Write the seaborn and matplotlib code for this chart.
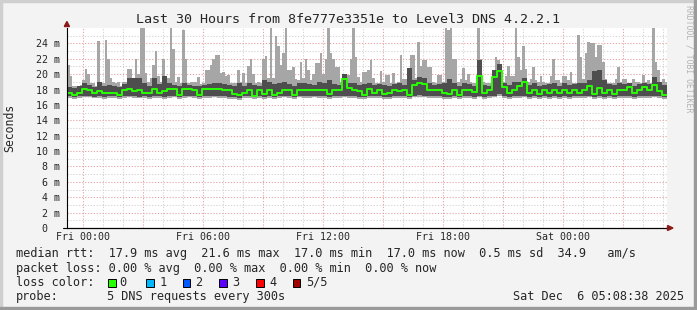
import numpy as np
import pandas as pd
import matplotlib
matplotlib.use("Agg")
import matplotlib.pyplot as plt
import seaborn as sns
from matplotlib.patches import Rectangle, Polygon

# ---------------- data ----------------
title = "Last 30 Hours from 8fe777e3351e to Level3 DNS 4.2.2.1"
x_tick_hours = [0, 6, 12, 18, 24]
x_tick_labels = ["Fri 00:00", "Fri 06:00", "Fri 12:00", "Fri 18:00", "Sat 00:00"]
y_ticks = [0, 2, 4, 6, 8, 10, 12, 14, 16, 18, 20, 22, 24]
y_tick_labels = ["0  ", "2 m", "4 m", "6 m", "8 m", "10 m", "12 m", "14 m",
                 "16 m", "18 m", "20 m", "22 m", "24 m"]
start_hour = -0.8      # hours relative to Fri 00:00
end_hour = 29.2

# outer smoke top (ms), one value per 7.5-minute bin
smoke_max = [21.2, 19.8, 18.5, 18.5, 18.3, 18.6, 19.3, 20.7, 20.0, 18.8, 18.8, 18.5, 24.3, 19.0, 18.8, 24.5, 22.0, 19.5, 19.0, 18.8,
             19.0, 18.5, 19.0, 19.0, 20.7, 20.7, 19.5, 22.0, 20.0, 26.0, 26.0, 20.2, 19.0, 19.5, 21.2, 23.0, 19.8, 19.0, 22.0, 19.6,
             19.5, 26.0, 23.3, 19.0, 19.6, 18.8, 25.8, 22.0, 18.8, 19.0, 19.0, 19.0, 19.6, 18.7, 18.8, 20.6, 20.6, 21.2, 22.0, 22.5,
             22.5, 20.2, 20.3, 19.8, 19.9, 18.8, 18.8, 18.8, 20.6, 19.0, 20.2, 18.9, 21.0, 22.0, 20.0, 18.9, 19.0, 18.8, 22.0, 22.4,
             19.5, 26.0, 19.5, 25.0, 23.7, 21.2, 22.7, 26.0, 20.6, 20.6, 20.9, 19.4, 19.2, 21.6, 19.5, 22.0, 20.6, 19.2, 20.0, 21.4,
             21.4, 22.8, 20.0, 22.0, 26.0, 22.8, 22.0, 20.9, 20.9, 19.0, 20.0, 20.0, 19.9, 22.0, 26.0, 22.2, 19.6, 19.0, 20.3, 20.3,
             20.5, 21.8, 19.5, 18.8, 18.8, 20.4, 19.0, 19.9, 19.9, 18.8, 20.2, 18.8, 19.0, 22.5, 19.4, 19.4, 19.0, 22.5, 22.5, 19.5,
             24.2, 21.1, 21.8, 21.8, 20.9, 20.9, 19.0, 18.8, 19.9, 19.9, 19.0, 26.0, 25.7, 26.0, 22.0, 22.0, 19.0, 19.4, 20.8, 19.2,
             20.0, 19.0, 18.8, 18.8, 26.0, 22.0, 19.0, 18.8, 18.8, 18.8, 19.0, 22.2, 21.8, 19.8, 19.0, 19.8, 21.1, 19.8, 19.8, 26.0,
             22.2, 20.5, 23.6, 20.7, 19.0, 19.4, 20.9, 19.2, 19.0, 19.8, 19.0, 18.8, 18.8, 19.8, 22.0, 19.2, 19.2, 18.8, 19.8, 19.8,
             19.2, 20.3, 18.8, 18.8, 25.1, 22.2, 19.4, 22.8, 24.2, 24.0, 24.0, 22.2, 23.8, 23.8, 21.6, 19.4, 18.8, 18.8, 18.8, 19.4,
             20.9, 19.0, 19.4, 19.4, 18.9, 18.9, 19.4, 19.0, 19.0, 18.8, 19.9, 19.0, 19.2, 18.9, 26.0, 21.6, 20.6, 19.0, 19.4, 19.0]
# inner (dark) smoke and median, one value per 15-minute bin
dark_max = [18.3, 18.2, 18.4, 18.8, 18.6, 18.3, 19.0, 18.5, 18.6, 18.5, 18.3, 18.7, 19.5, 19.5, 19.5, 18.8, 18.5, 19.5, 18.7, 19.8,
            18.9, 18.6, 18.4, 18.8, 18.6, 18.5, 18.4, 18.6, 18.7, 18.8, 18.9, 18.7, 18.6, 18.5, 18.9, 18.5, 18.9, 18.6, 18.4, 19.2,
            19.0, 18.7, 18.8, 19.0, 18.7, 18.5, 18.9, 18.8, 18.7, 18.6, 19.0, 18.8, 19.2, 18.7, 18.6, 20.0, 18.9, 18.8, 18.6, 18.7,
            18.8, 18.6, 18.7, 18.6, 18.5, 18.7, 18.8, 18.6, 20.8, 19.3, 19.6, 19.5, 18.8, 18.6, 18.7, 18.9, 19.4, 18.8, 18.5, 18.8,
            18.7, 18.5, 21.9, 18.6, 18.5, 20.6, 21.3, 18.9, 18.6, 19.0, 19.0, 19.5, 18.6, 18.8, 18.5, 18.6, 18.7, 18.9, 18.5, 18.8,
            18.6, 18.7, 18.8, 18.9, 19.3, 20.4, 20.6, 19.2, 18.7, 18.6, 18.8, 18.7, 18.9, 18.5, 18.7, 18.9, 18.7, 19.6, 19.0, 18.6]
median_rtt = [17.5, 17.3, 17.5, 18.1, 18.0, 17.6, 17.8, 17.5, 17.5, 17.6, 17.3, 18.0, 18.1, 17.8, 18.0, 17.6, 17.5, 18.1, 17.6, 17.8,
              18.1, 18.1, 17.3, 18.1, 18.1, 18.0, 17.3, 18.1, 18.1, 18.1, 18.1, 18.0, 17.9, 17.4, 17.3, 17.6, 18.0, 17.2, 18.0, 17.4,
              18.0, 17.3, 17.6, 18.0, 18.0, 17.3, 18.0, 18.0, 18.0, 18.0, 18.0, 17.9, 17.4, 18.0, 18.0, 19.4, 18.2, 18.0, 17.8, 17.3,
              18.1, 17.6, 18.0, 17.4, 17.6, 18.0, 17.8, 18.0, 17.3, 18.6, 18.8, 18.7, 18.0, 18.0, 18.0, 17.5, 17.4, 18.0, 17.3, 18.0,
              18.0, 17.7, 19.8, 17.6, 18.0, 19.6, 20.4, 18.3, 17.6, 18.0, 18.5, 19.0, 17.5, 18.0, 17.4, 18.0, 17.6, 18.0, 17.5, 18.0,
              17.5, 18.0, 17.6, 18.0, 18.4, 17.4, 18.2, 17.6, 18.0, 17.4, 18.0, 18.0, 18.3, 17.5, 18.0, 18.3, 18.0, 18.6, 17.8, 17.3]
dark_min = [17.1, 17.0, 17.1, 17.1, 17.2, 17.0, 17.1, 17.0, 17.1, 17.1, 17.0, 17.1, 17.2, 17.1, 17.0, 17.1, 17.0, 17.1, 17.1, 17.0,
            17.1, 17.1, 17.0, 17.1, 17.2, 17.1, 17.0, 17.1, 17.1, 17.2, 17.1, 17.1, 17.0, 17.0, 16.9, 17.1, 17.1, 17.0, 17.1, 17.0,
            17.1, 17.0, 17.1, 17.1, 17.1, 17.0, 17.2, 17.1, 17.1, 17.2, 17.1, 17.1, 17.0, 17.1, 17.1, 17.2, 17.1, 17.1, 17.0, 17.0,
            17.1, 17.1, 17.1, 17.0, 17.0, 17.1, 17.1, 17.1, 17.0, 17.2, 17.3, 17.2, 17.1, 17.1, 17.1, 17.0, 17.0, 17.1, 17.0, 17.1,
            17.1, 17.0, 17.2, 17.0, 17.1, 17.2, 17.4, 17.1, 17.0, 17.1, 17.1, 17.2, 17.0, 17.1, 17.0, 17.1, 17.0, 17.1, 17.0, 17.1,
            17.0, 17.1, 17.1, 17.1, 17.2, 17.0, 17.1, 17.0, 17.1, 17.0, 17.1, 17.1, 17.1, 17.0, 17.1, 17.1, 17.1, 17.2, 17.1, 17.0]
smoke_min = [16.9, 16.8, 16.9, 17.0, 17.0, 16.9, 16.9, 16.8, 16.9, 16.9, 16.8, 16.9, 17.0, 16.9, 16.9, 16.9, 16.8, 16.9, 16.9, 16.8,
             16.9, 17.0, 16.8, 16.9, 17.0, 16.9, 16.8, 16.9, 16.9, 17.0, 16.9, 16.9, 16.8, 16.8, 16.7, 16.9, 16.9, 16.8, 16.9, 16.8,
             16.9, 16.8, 16.9, 17.0, 16.9, 16.8, 17.0, 16.9, 16.9, 17.0, 16.9, 16.9, 16.8, 16.9, 16.9, 17.0, 16.9, 16.9, 16.8, 16.8,
             16.9, 16.9, 16.9, 16.8, 16.8, 16.9, 16.9, 16.9, 16.8, 17.0, 17.0, 17.0, 16.9, 16.9, 16.9, 16.8, 16.8, 16.9, 16.8, 16.9,
             16.9, 16.8, 17.0, 16.8, 16.9, 17.0, 17.1, 16.9, 16.8, 16.9, 16.9, 17.0, 16.8, 16.9, 16.8, 16.9, 16.8, 16.9, 16.8, 16.9,
             16.8, 16.9, 16.9, 16.9, 17.0, 16.8, 16.9, 16.8, 16.9, 16.8, 16.9, 16.9, 16.9, 16.8, 16.9, 16.9, 16.9, 17.0, 16.9, 16.8]

stats_line1 = "median rtt:  17.9 ms avg  21.6 ms max  17.0 ms min  17.0 ms now  0.5 ms sd  34.9   am/s"
stats_line2 = "packet loss: 0.00 % avg  0.00 % max  0.00 % min  0.00 % now"
loss_title = "loss color:"
loss_labels = ["0", "1", "2", "3", "4", "5/5"]
loss_colors = ["#26ff00", "#00b8ff", "#0059ff", "#5e00ff", "#ff0000", "#a00000"]
probe_label = "probe:"
probe_text = "5 DNS requests every 300s"
stamp_text = "Sat Dec  6 05:08:38 2025"
watermark = "RRDTOOL / TOBI OETIKER"

# ---------------- figure ----------------
sns.set_style("white")
plt.rcParams["font.family"] = ["DejaVu Sans Mono"]

W, H = 697, 310
fx = lambda x: x / W
fy = lambda y: 1 - y / H

fig = plt.figure(figsize=(W / 100, H / 100), dpi=100, facecolor="#f3f3f3")
ax = fig.add_axes([fx(67), 82 / H, 600 / W, 200 / H])
ax.set_facecolor("white")

ext = lambda v: np.append(np.asarray(v, float), v[-1])
edges_fine = np.linspace(start_hour, end_hour, len(smoke_max) + 1)
edges = np.linspace(start_hour, end_hour, len(median_rtt) + 1)
# outer smoke lower edge on the fine grid (each 15-min value covers two fine bins)
smoke_min_fine = np.repeat(np.asarray(smoke_min, float), 2)

ax.fill_between(edges_fine, ext(smoke_min_fine), ext(smoke_max), step="post",
                color="#a6a6a6", linewidth=0, zorder=2)
ax.fill_between(edges, ext(dark_min), ext(dark_max), step="post",
                color="#4e4e4e", linewidth=0, zorder=3)

df = pd.DataFrame({"hour": edges, "median": ext(median_rtt)})
sns.lineplot(data=df, x="hour", y="median", ax=ax, drawstyle="steps-post",
             color="#26ff00", linewidth=1.4, zorder=4, legend=False)

ax.set_xlim(start_hour, end_hour)
ax.set_ylim(0, 26)

# ticks / grid
major_x = [h for h in range(0, 30, 3)]
ax.set_xticks(major_x)
ax.set_xticklabels([x_tick_labels[x_tick_hours.index(h)] if h in x_tick_hours else "" for h in major_x])
ax.set_xticks([h for h in range(0, 30) if h % 3], minor=True)
ax.set_yticks(y_ticks)
ax.set_yticklabels(y_tick_labels)
ax.set_yticks(list(range(1, 26, 2)), minor=True)
ax.tick_params(axis="both", which="both", length=0)
ax.tick_params(axis="x", pad=2.6, labelsize=7.2)
ax.tick_params(axis="y", pad=5.4, labelsize=7.2)

ax.grid(which="major", color="#e8a6a6", linestyle=(0, (1.2, 1.6)), linewidth=0.75, zorder=1)
ax.grid(which="minor", color="#d4d4d4", linestyle=(0, (1.2, 1.6)), linewidth=0.75, zorder=1)
ax.set_axisbelow(True)
ax.set_xlabel("")
ax.set_ylabel("")

for s in ["top", "right"]:
    ax.spines[s].set_visible(False)
for s in ["left", "bottom"]:
    ax.spines[s].set_color("black")
    ax.spines[s].set_linewidth(0.8)
    ax.spines[s].set_zorder(6)

# arrows
arrow_c = "#8b1a1a"
fig.patches.append(Polygon([(fx(64.3), fy(26.5)), (fx(69.5), fy(26.5)), (fx(66.9), fy(21.5))],
                           closed=True, transform=fig.transFigure, color=arrow_c, zorder=10))
fig.patches.append(Polygon([(fx(667.5), fy(225.5)), (fx(667.5), fy(230.5)), (fx(673), fy(228))],
                           closed=True, transform=fig.transFigure, color=arrow_c, zorder=10))
fig.add_artist(plt.Line2D([fx(63), fx(667)], [fy(228), fy(228)], color="black", lw=0.8,
                          transform=fig.transFigure, zorder=9))

# title and labels
fig.text(fx(348), fy(19.3), title, ha="center", va="center", fontsize=9.6)
fig.text(fx(10), fy(128), "Seconds", ha="center", va="center", rotation=90, fontsize=8.3)
fig.text(fx(688.5), fy(59), watermark, ha="center", va="center", rotation=270,
         fontsize=5.9, color="#b2b2b2")

# legend / stats lines
leg_fs = 8.55
fig.text(fx(16), fy(254), stats_line1, ha="left", va="center", fontsize=leg_fs)
fig.text(fx(16), fy(268.3), stats_line2, ha="left", va="center", fontsize=leg_fs)
fig.text(fx(16), fy(282.3), loss_title, ha="left", va="center", fontsize=leg_fs)
sq_x = [108.3, 146, 182.7, 219, 256, 292.7]
lab_x = [119, 159.5, 195.5, 232, 269.5, 306]
for sx, lx, lab, col in zip(sq_x, lab_x, loss_labels, loss_colors):
    fig.patches.append(Rectangle((fx(sx), fy(286.5)), 7.7 / W, 8.0 / H, transform=fig.transFigure,
                                 facecolor=col, edgecolor="black", linewidth=0.7, zorder=10))
    fig.text(fx(lx), fy(282.3), lab, ha="left", va="center", fontsize=leg_fs)
fig.text(fx(16), fy(296.3), probe_label, ha="left", va="center", fontsize=leg_fs)
fig.text(fx(107.3), fy(296.3), probe_text, ha="left", va="center", fontsize=leg_fs)
fig.text(fx(513.3), fy(296.3), stamp_text, ha="left", va="center", fontsize=leg_fs)

# frame shading
fig.patches.append(Rectangle((0, fy(2)), 1, 2 / H, transform=fig.transFigure, color="#cfcfcf", zorder=0))
fig.patches.append(Rectangle((0, 0), 2 / W, 1, transform=fig.transFigure, color="#cfcfcf", zorder=0))
fig.patches.append(Rectangle((0, 0), 1, 3 / H, transform=fig.transFigure, color="#9a9a9a", zorder=0))
fig.patches.append(Rectangle((fx(694), 0), 3 / W, 1, transform=fig.transFigure, color="#9a9a9a", zorder=0))

fig.savefig("out.png", dpi=100, facecolor=fig.get_facecolor())
